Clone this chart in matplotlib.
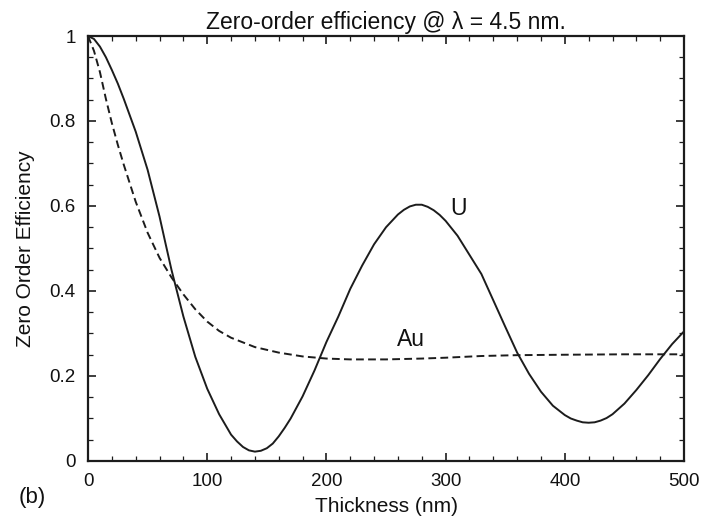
import matplotlib
matplotlib.use("Agg")
import matplotlib.pyplot as plt
from matplotlib.ticker import MultipleLocator

plt.rcParams['font.family'] = ['Liberation Sans', 'DejaVu Sans']

# Zero-order efficiency versus grating thickness
thickness_u = [0, 5, 10, 15, 20, 25, 30, 40, 50, 60, 65, 70, 75, 80, 90, 100, 110,
               120, 125, 130, 135, 140, 145, 150, 155, 160, 165, 170, 180, 190,
               200, 210, 220, 230, 240, 250, 260, 265, 270, 275, 280, 285, 290,
               295, 300, 310, 320, 330, 340, 350, 360, 370, 380, 390, 400, 405,
               410, 415, 420, 425, 430, 435, 440, 450, 460, 470, 480, 490, 500]
eff_u = [1.0, 0.993, 0.975, 0.95, 0.92, 0.888, 0.852, 0.775, 0.685, 0.575, 0.512,
         0.45, 0.395, 0.34, 0.245, 0.17, 0.11, 0.062, 0.046, 0.033, 0.025, 0.022,
         0.024, 0.03, 0.041, 0.058, 0.078, 0.10, 0.152, 0.213, 0.28, 0.34, 0.405,
         0.46, 0.51, 0.55, 0.58, 0.591, 0.599, 0.603, 0.603, 0.598, 0.59, 0.579,
         0.565, 0.53, 0.485, 0.44, 0.378, 0.316, 0.255, 0.205, 0.163, 0.13, 0.108,
         0.1, 0.095, 0.091, 0.09, 0.091, 0.095, 0.101, 0.11, 0.135, 0.167, 0.202,
         0.24, 0.275, 0.305]

thickness_au = [0, 5, 10, 15, 20, 25, 30, 40, 50, 60, 70, 80, 90, 100, 110, 120,
                140, 160, 180, 200, 220, 250, 280, 300, 330, 360, 400, 450, 500]
eff_au = [1.0, 0.965, 0.915, 0.852, 0.795, 0.744, 0.697, 0.61, 0.537, 0.478, 0.432,
          0.392, 0.357, 0.328, 0.306, 0.29, 0.268, 0.255, 0.246, 0.241, 0.239,
          0.239, 0.241, 0.243, 0.247, 0.249, 0.25, 0.251, 0.251]

x_ticks = [0, 100, 200, 300, 400, 500]
y_ticks = [0, 0.2, 0.4, 0.6, 0.8, 1]
y_tick_labels = ['0', '0.2', '0.4', '0.6', '0.8', '1']

ink = '#1c1c1c'
text_ink = '#111111'

fig = plt.figure(figsize=(7.07, 5.21), dpi=100)
ax = fig.add_axes([0.1245, 0.1152, 0.843, 0.8157])

ax.plot(thickness_u, eff_u, color=ink, lw=1.4, solid_joinstyle='round')
ax.plot(thickness_au, eff_au, color=ink, lw=1.4, linestyle=(0, (4, 2.2)))

ax.set_xlim(0, 500)
ax.set_ylim(0, 1)
ax.set_xticks(x_ticks)
ax.set_yticks(y_ticks)
ax.set_yticklabels(y_tick_labels)
ax.xaxis.set_minor_locator(MultipleLocator(20))
ax.yaxis.set_minor_locator(MultipleLocator(0.05))
ax.tick_params(which='both', direction='in', top=True, right=True,
               colors=ink, labelsize=13.5, labelcolor=text_ink)
ax.tick_params(which='major', length=6, width=1.2, pad=9)
ax.tick_params(which='minor', length=3.5, width=0.9)
for s in ax.spines.values():
    s.set_linewidth(1.6)
    s.set_color(ink)

ax.text(310.7, 0.594, 'U', fontsize=16.5, ha='center', va='center', color=text_ink)
ax.text(271, 0.287, 'Au', fontsize=16.5, ha='center', va='center', color=text_ink)

ax.set_xlabel('Thickness (nm)', fontsize=15, color=text_ink, labelpad=5)
ax.set_ylabel('Zero Order Efficiency', fontsize=15, color=text_ink, labelpad=10)
ax.set_title('Zero-order efficiency @ λ = 4.5 nm.', fontsize=16.5, color=text_ink,
             pad=5)
fig.text(32 / 707, 1 - 498 / 521, '(b)', fontsize=16, ha='center', va='center',
         color=text_ink)

fig.savefig('out.png', dpi=100)
